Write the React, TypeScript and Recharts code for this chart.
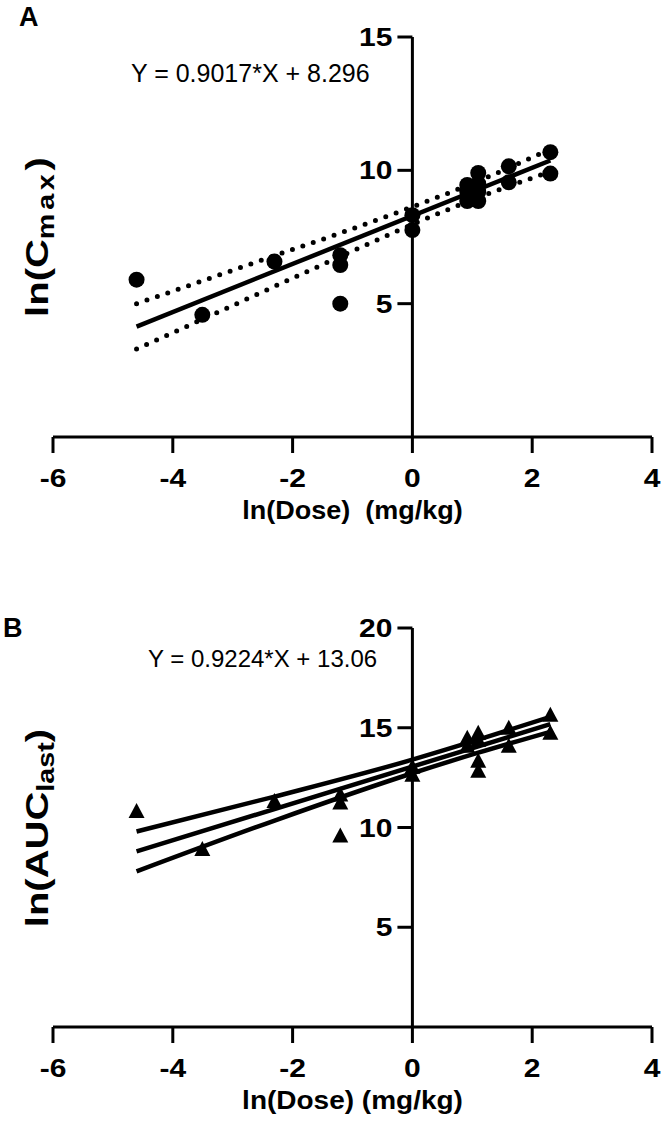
import React from 'react';
import { ComposedChart, Scatter, Line, XAxis, YAxis, ReferenceLine } from 'recharts';

const FONT = '"Liberation Sans", Arial, Helvetica, sans-serif';

// shared x axis (ln dose)
const xTicks = [-6, -4, -2, 0, 2, 4];
const xDomain = [-6, 4];

// Panel A: ln(Cmax)
const cmaxTicks = [5, 10, 15];
const cmaxDomain = [0, 15];
const cmaxPoints = [
  { x: -4.605, y: 5.9 },
  { x: -3.507, y: 4.58 },
  { x: -2.303, y: 6.58 },
  { x: -1.204, y: 6.82 },
  { x: -1.204, y: 6.45 },
  { x: -1.204, y: 5.0 },
  { x: 0, y: 8.32 },
  { x: 0, y: 7.76 },
  { x: 0.916, y: 9.45 },
  { x: 0.916, y: 9.2 },
  { x: 0.916, y: 8.85 },
  { x: 1.099, y: 9.9 },
  { x: 1.099, y: 9.5 },
  { x: 1.099, y: 9.2 },
  { x: 1.099, y: 8.85 },
  { x: 1.609, y: 10.15 },
  { x: 1.609, y: 9.55 },
  { x: 2.303, y: 10.68 },
  { x: 2.303, y: 9.88 },
];
const cmaxFit = [
  { x: -4.605, y: 4.14 },
  { x: 2.303, y: 10.37 },
];
const cmaxUpper = [
  { x: -4.605, y: 5.0 },
  { x: -3.5, y: 5.86 },
  { x: -2.3, y: 6.8 },
  { x: -1.2, y: 7.65 },
  { x: 0, y: 8.63 },
  { x: 1.1, y: 9.6 },
  { x: 2.303, y: 10.8 },
];
const cmaxLower = [
  { x: -4.605, y: 3.3 },
  { x: -3.5, y: 4.42 },
  { x: -2.3, y: 5.65 },
  { x: -1.2, y: 6.77 },
  { x: 0, y: 7.97 },
  { x: 1.1, y: 8.98 },
  { x: 2.303, y: 9.95 },
];
const cmaxEquation = 'Y = 0.9017*X + 8.296';

// Panel B: ln(AUClast)
const aucTicks = [5, 10, 15, 20];
const aucDomain = [0, 20];
const aucPoints = [
  { x: -4.605, y: 10.78 },
  { x: -3.507, y: 8.87 },
  { x: -2.303, y: 11.28 },
  { x: -1.204, y: 11.6 },
  { x: -1.204, y: 11.2 },
  { x: -1.204, y: 9.55 },
  { x: 0, y: 13.0 },
  { x: 0, y: 12.6 },
  { x: 0.916, y: 14.45 },
  { x: 0.916, y: 14.05 },
  { x: 1.099, y: 14.7 },
  { x: 1.099, y: 14.35 },
  { x: 1.099, y: 13.3 },
  { x: 1.099, y: 12.8 },
  { x: 1.609, y: 14.95 },
  { x: 1.609, y: 14.05 },
  { x: 2.303, y: 15.6 },
  { x: 2.303, y: 14.7 },
];
const aucFit = [
  { x: -4.605, y: 8.8 },
  { x: 2.303, y: 15.18 },
];
const aucUpper = [
  { x: -4.605, y: 9.8 },
  { x: -2.3, y: 11.55 },
  { x: 0, y: 13.4 },
  { x: 1.1, y: 14.4 },
  { x: 2.303, y: 15.55 },
];
const aucLower = [
  { x: -4.605, y: 7.8 },
  { x: -2.3, y: 10.35 },
  { x: 0, y: 12.72 },
  { x: 1.1, y: 13.75 },
  { x: 2.303, y: 14.8 },
];
const aucEquation = 'Y = 0.9224*X + 13.06';

const xTitleA = 'ln(Dose)\u00A0 (mg/kg)';
const xTitleB = 'ln(Dose) (mg/kg)';

const TICK_FS = 25;
const TICK_SX = 1.2;

const Circle = (props: any) => {
  const { cx, cy } = props;
  if (cx == null || cy == null) return null;
  return <circle cx={cx} cy={cy} r={8} fill="#000" />;
};

const Triangle = (props: any) => {
  const { cx, cy } = props;
  if (cx == null || cy == null) return null;
  return <path d={`M${cx},${cy - 9} L${cx + 8},${cy + 6} L${cx - 8},${cy + 6} Z`} fill="#000" />;
};

const XTick = (props: any) => {
  const { x, y, payload } = props;
  return (
    <g transform={`translate(${x},${y})`}>
      <text
        x={0}
        y={0}
        dy="0.71em"
        textAnchor="middle"
        transform={`scale(${TICK_SX},1)`}
        fontSize={TICK_FS}
        fontWeight="bold"
        fontFamily={FONT}
        fill="#000"
      >
        {payload.value}
      </text>
    </g>
  );
};

const YTickLabel = (props: any) => {
  const vb = props.viewBox || {};
  const left = Math.min(vb.x, vb.x + (vb.width || 0));
  const cy = vb.y + (vb.height || 0) / 2;
  return (
    <g transform={`translate(${left - 5},${cy})`}>
      <text
        x={0}
        y={0}
        dy="0.36em"
        textAnchor="end"
        transform={`scale(${TICK_SX},1)`}
        fontSize={TICK_FS}
        fontWeight="bold"
        fontFamily={FONT}
        fill="#000"
      >
        {props.v}
      </text>
    </g>
  );
};

const XTitle = (props: any) => {
  const vb = props.viewBox || {};
  const cx = vb.x + vb.width / 2;
  const by = vb.y + vb.height - props.off;
  return (
    <g transform={`translate(${cx},${by})`}>
      <text x={0} y={0} textAnchor="middle" transform={`scale(${props.sx},1)`} fontSize={25} fontWeight="bold" fontFamily={FONT} fill="#000">
        {props.t}
      </text>
    </g>
  );
};

function Panel(props: {
  top: number;
  height: number;
  margin: any;
  yDomain: number[];
  yTicks: number[];
  points: any[];
  fit: any[];
  upper: any[];
  lower: any[];
  dotted: boolean;
  marker: any;
  xTitle: string;
  titleScale: number;
}) {
  const { top, height, margin, yDomain, yTicks, points, fit, upper, lower, dotted, marker, xTitle, titleScale } = props;
  const ciStroke = dotted
    ? { strokeWidth: 5, strokeDasharray: '0 11', strokeLinecap: 'round' as const }
    : { strokeWidth: 4.5 };
  return (
    <div style={{ position: 'absolute', left: 0, top }}>
      <ComposedChart width={664} height={height} margin={margin}>
        <XAxis
          dataKey="x"
          type="number"
          domain={xDomain}
          ticks={xTicks}
          allowDataOverflow
          height={85}
          axisLine={{ stroke: '#000', strokeWidth: 3 }}
          tickLine={{ stroke: '#000', strokeWidth: 3 }}
          tickSize={16}
          tickMargin={16}
          tick={<XTick />}
          label={<XTitle t={xTitle} sx={titleScale} off={3} />}
        />
        <YAxis dataKey="y" type="number" domain={yDomain} hide allowDataOverflow />
        <ReferenceLine x={0} stroke="#000" strokeWidth={3} />
        {yTicks.map((v) => (
          <ReferenceLine
            key={v}
            segment={[
              { x: -0.25, y: v },
              { x: 0, y: v },
            ]}
            stroke="#000"
            strokeWidth={3}
            label={<YTickLabel v={String(v)} />}
          />
        ))}
        <Line data={upper} dataKey="y" type="monotone" stroke="#000" dot={false} isAnimationActive={false} {...ciStroke} />
        <Line data={lower} dataKey="y" type="monotone" stroke="#000" dot={false} isAnimationActive={false} {...ciStroke} />
        <Line data={fit} dataKey="y" type="linear" stroke="#000" strokeWidth={4.5} dot={false} isAnimationActive={false} />
        <Scatter data={points} dataKey="y" shape={marker} isAnimationActive={false} />
      </ComposedChart>
    </div>
  );
}

export default function App() {
  return (
    <div style={{ position: 'absolute', left: 0, top: 0, width: 664, height: 1133, background: '#fff', overflow: 'hidden' }}>
      <Panel
        top={0}
        height={540}
        margin={{ top: 37, right: 12, left: 53, bottom: 18 }}
        yDomain={cmaxDomain}
        yTicks={cmaxTicks}
        points={cmaxPoints}
        fit={cmaxFit}
        upper={cmaxUpper}
        lower={cmaxLower}
        dotted={true}
        marker={Circle}
        xTitle={xTitleA}
        titleScale={1.08}
      />
      <Panel
        top={560}
        height={573}
        margin={{ top: 68, right: 12, left: 53, bottom: 21 }}
        yDomain={aucDomain}
        yTicks={aucTicks}
        points={aucPoints}
        fit={aucFit}
        upper={aucUpper}
        lower={aucLower}
        dotted={false}
        marker={Triangle}
        xTitle={xTitleB}
        titleScale={1.12}
      />
      <svg
        width={664}
        height={1133}
        style={{ position: 'absolute', left: 0, top: 0, pointerEvents: 'none' }}
        fontFamily={FONT}
      >
        <text x={19} y={26} fontSize={27} fontWeight="bold" fill="#000">A</text>
        <text x={3} y={637} fontSize={27} fontWeight="bold" fill="#000">B</text>
        <text x={131} y={82} fontSize={25} fill="#000">{cmaxEquation}</text>
        <text x={148} y={667} fontSize={24} fill="#000">{aucEquation}</text>
        <text transform="translate(48,237) rotate(-90) scale(1.25,1)" textAnchor="middle" fontSize={32} fontWeight="bold" fill="#000">
          ln(C
          <tspan fontSize={23} dy={6} letterSpacing={3}>max</tspan>
          <tspan dy={-6}>)</tspan>
        </text>
        <text transform="translate(48,828) rotate(-90) scale(1.25,1)" textAnchor="middle" fontSize={32} fontWeight="bold" fill="#000">
          ln(AUC
          <tspan fontSize={23} dy={6}>last</tspan>
          <tspan dy={-6}>)</tspan>
        </text>
      </svg>
    </div>
  );
}
